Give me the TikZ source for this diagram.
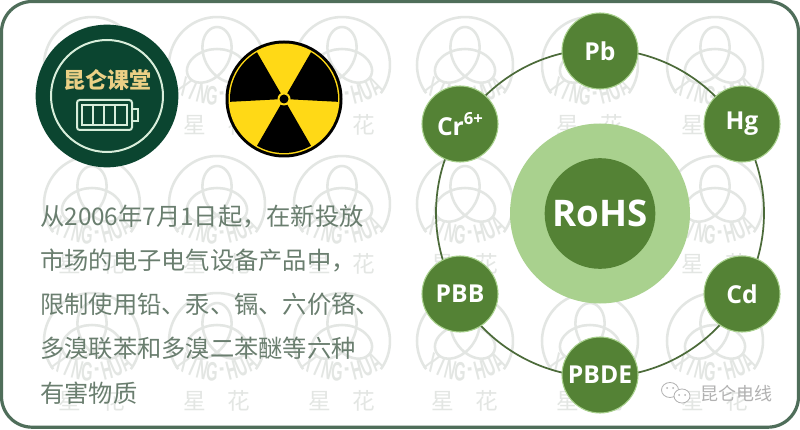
\documentclass[tikz,border=0pt]{standalone}
\usepackage{fontspec}
\setmainfont{Open Sans}
\newfontfamily\cjk{Noto Sans CJK SC}
\newfontfamily\marklatin{Liberation Sans}
\definecolor{framegreen}{HTML}{4F6E5A}
\definecolor{leafgreen}{HTML}{548235}
\definecolor{palegreen}{HTML}{A9D18E}
\definecolor{ringgreen}{HTML}{4C6B3A}
\definecolor{badgegreen}{HTML}{0B4530}
\definecolor{badgeline}{HTML}{D8EEDB}
\definecolor{badgegold}{HTML}{EBD085}
\definecolor{textgrey}{HTML}{6A7E6F}
\definecolor{markgrey}{HTML}{E3E6E3}
\definecolor{hazard}{HTML}{FFD916}
\tikzset{
    elem/.style={circle,draw=palegreen,line width=0.8pt,fill=leafgreen,text=white,
        minimum size=57pt,inner sep=0pt,font=\bfseries\fontsize{18.5}{20}\selectfont},
    infoline/.style={anchor=base west,inner sep=0pt,text=textgrey,font=\cjk\fontsize{18.2}{20}\selectfont},
    markline/.style={draw=markgrey,line width=1.9pt},
    markletter/.style={inner sep=0pt,text=markgrey,font=\marklatin\bfseries\fontsize{20}{22}\selectfont},
    markchar/.style={inner sep=0pt,text=markgrey,font=\cjk\fontsize{17}{20}\selectfont},
    cell/.style={draw=badgeline,line width=1.5pt}
}
\begin{document}
\begin{tikzpicture}[x=0.75pt,y=0.75pt]
    \useasboundingbox (0,0) rectangle (800,429);
    \fill[white] (0,0) rectangle (800,429);

    % Watermark
    \foreach \cx in {92,217,342,465,590,715} {
        \foreach \cy in {88,225,364} {
            \begin{scope}[shift={(\cx,\cy)}]
                \draw[markline] (-36:48) arc[start angle=-36,end angle=216,radius=48];
                \draw[markline,smooth,samples=45,domain=0:360,variable=\t] plot
                    ({11*(sin(\t)+2*sin(2*\t))},{5-11*(cos(\t)-2*cos(2*\t))});
                \foreach \ltr [count=\i, evaluate=\i as \a using 270+(\i-4.5)*9.5] in {X,I,N,G,-,H,U,A} {
                    \node[markletter,rotate=\a+90,xscale=0.55] (xh\i) at ([shift={(\a:60)}]0,29) {\ltr};
                }
                \node[markchar] (xing) at (-22,-60) {星};
                \node[markchar] (hua) at (22,-60) {花};
            \end{scope}
        }
    }

    % Frame
    \draw[framegreen,line width=2.4pt,rounded corners=23pt] (1.5,1.8) rectangle (798.5,427.5);

    % Badge
    \node[circle,fill=badgegreen,minimum size=107pt,inner sep=0pt] (badge) at (107,333) {};
    \node[circle,draw=badgeline,line width=1.5pt,minimum size=84pt,inner sep=0pt] (badgering) at (107,333) {};
    \node[text=badgegold,inner sep=0pt,font=\cjk\bfseries\fontsize{16.5}{20}\selectfont] (badgetext) at (107,349) {昆仑课堂};
    \draw[cell,rounded corners=2pt] (77,299) rectangle (132,329);
    \draw[cell] (82,304) rectangle (127,324);
    \foreach \x in {93,104,115} {
        \draw[cell] (\x,304) -- (\x,324);
    }
    \draw[cell] (132,308) -- (138,308) -- (138,320) -- (132,320);

    % Radiation sign
    \begin{scope}[shift={(284,330)}]
        \fill[black] (0,0) circle (58.5);
        \fill[hazard] (0,0) circle (55.5);
        \foreach \a/\b in {-3/60,120/183,240/300} {
            \fill[black] (0,0) -- (\a:54) arc[start angle=\a,end angle=\b,radius=54] -- cycle;
        }
        \fill[hazard] (0,0) circle (6.5);
        \fill[black] (0,0) circle (4.5);
    \end{scope}

    % Text
    \node[infoline] (info1) at (40,204) {从2006年7月1日起，在新投放};
    \node[infoline] (info2) at (40,160) {市场的电子电气设备产品中，};
    \node[infoline] (info3) at (40,116) {限制使用铅、汞、镉、六价铬、};
    \node[infoline] (info4) at (40,72) {多溴联苯和多溴二苯醚等六种};
    \node[infoline] (info5) at (40,27) {有害物质};

    % Ring and elements
    \draw[ringgreen,line width=1.3pt] (600,216) circle (164);
    \node[circle,fill=palegreen,minimum size=135pt,inner sep=0pt] (rohsring) at (600,215.5) {};
    \node[circle,fill=leafgreen,minimum size=83pt,inner sep=0pt,text=white,
        font=\bfseries\fontsize{27.5}{32}\selectfont] (rohs) at (600,215.5) {RoHS};
    \node[elem] (pb) at (600,378) {Pb};
    \node[elem] (hg) at (742,305) {Hg};
    \node[elem] (cd) at (742,135) {Cd};
    \node[elem] (pbde) at (600,54) {PBDE};
    \node[elem] (pbb) at (460,135) {PBB};
    \node[elem] (cr) at (460,305) {Cr\raisebox{0.42em}{\fontsize{12.5}{14}\selectfont 6+}};

    % Account mark
    \draw[gray!60,fill=white,line width=0.6pt] (670,39) ellipse (8.5 and 7.5);
    \draw[gray!60,fill=white,line width=0.6pt] (682,33) ellipse (8 and 7);
    \foreach \x/\y in {667/41,673/41,679/34,685/34} {
        \fill[gray!60] (\x,\y) circle (1);
    }
    \node[text=gray!60,inner sep=0pt,font=\cjk\fontsize{13.5}{16}\selectfont] (account) at (736,35) {昆仑电线};
\end{tikzpicture}
\end{document}
